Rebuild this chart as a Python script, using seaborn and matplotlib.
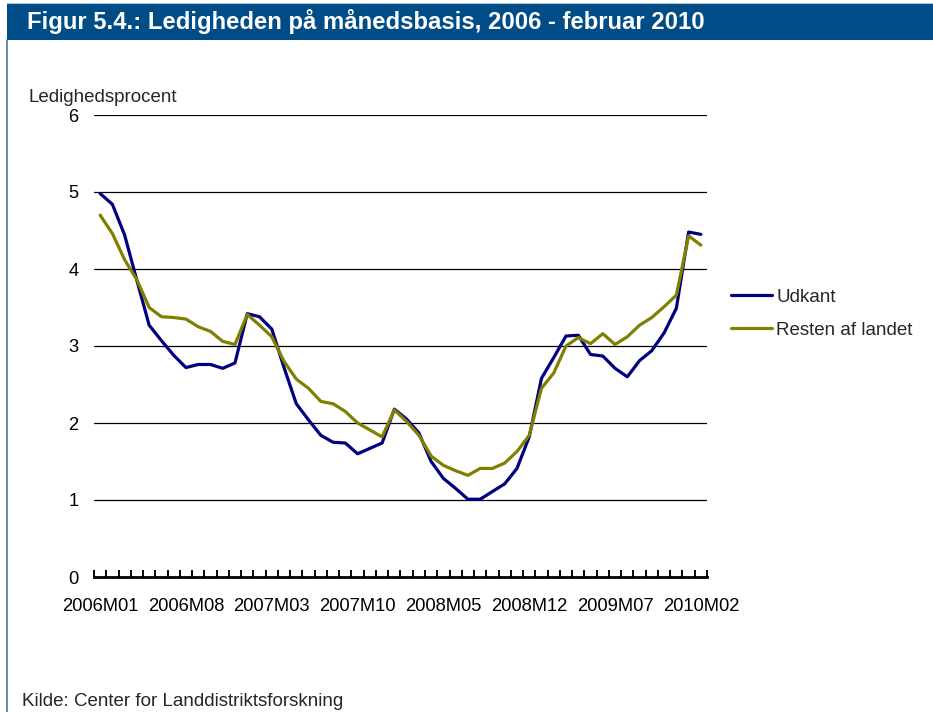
import matplotlib
matplotlib.use("Agg")
import matplotlib.pyplot as plt
from matplotlib.patches import Rectangle
from matplotlib.lines import Line2D
import numpy as np
import pandas as pd
import seaborn as sns

# Monthly unemployment rate, January 2006 - February 2010
months = [str(p).replace("-", "M") for p in pd.period_range("2006-01", "2010-02", freq="M")]

udkant = [4.98, 4.84, 4.44, 3.85, 3.27, 3.07, 2.88, 2.72, 2.76, 2.76,
          2.71, 2.78, 3.42, 3.38, 3.22, 2.72, 2.25, 2.04, 1.84, 1.75,
          1.74, 1.60, 1.67, 1.74, 2.18, 2.05, 1.87, 1.50, 1.28, 1.15,
          1.01, 1.01, 1.11, 1.21, 1.41, 1.82, 2.58, 2.85, 3.13, 3.14,
          2.89, 2.87, 2.71, 2.60, 2.81, 2.94, 3.17, 3.49, 4.48, 4.45]

resten = [4.70, 4.46, 4.12, 3.86, 3.50, 3.38, 3.37, 3.35, 3.25, 3.19,
          3.06, 3.02, 3.41, 3.27, 3.12, 2.80, 2.57, 2.45, 2.28, 2.25,
          2.15, 2.00, 1.91, 1.82, 2.17, 2.02, 1.84, 1.57, 1.45, 1.38,
          1.32, 1.41, 1.41, 1.48, 1.63, 1.84, 2.45, 2.65, 3.00, 3.11,
          3.03, 3.16, 3.02, 3.12, 3.27, 3.37, 3.51, 3.66, 4.43, 4.31]

series_names = ["Udkant", "Resten af landet"]
series_colors = ["#000080", "#808000"]
tick_labels = ["2006M01", "2006M08", "2007M03", "2007M10",
               "2008M05", "2008M12", "2009M07", "2010M02"]
y_ticks = [0, 1, 2, 3, 4, 5, 6]

df = pd.DataFrame({
    "idx": list(range(len(months))) * 2,
    "maaned": months * 2,
    "procent": udkant + resten,
    "serie": [series_names[0]] * len(months) + [series_names[1]] * len(months),
})

sns.set_theme(style="white")
plt.rcParams["font.family"] = ["Liberation Sans", "DejaVu Sans"]

W, H = 933, 712
fig = plt.figure(figsize=(W / 100, H / 100), dpi=100)
fig.patch.set_facecolor("white")

# Header bar and frame
fig.patches.append(Rectangle((7 / W, 1 - 40 / H), 1 - 7 / W, 36.5 / H,
                             transform=fig.transFigure, facecolor="#004C87",
                             edgecolor="none", zorder=0))
fig.patches.append(Rectangle((7 / W, 1 - 4 / H), 1 - 7 / W, 1.2 / H,
                             transform=fig.transFigure, facecolor="#A9C4DC",
                             edgecolor="none", zorder=0))
fig.lines.append(Line2D([7.5 / W, 7.5 / W], [0, 1 - 40 / H],
                        transform=fig.transFigure, color="#4A78A8", lw=1.2))
fig.text(27 / W, 1 - 21.5 / H, "Figur 5.4.: Ledigheden på månedsbasis, 2006 - februar 2010",
         color="white", fontsize=17.2, fontweight="bold", va="center", ha="left")

ax = fig.add_axes([94 / W, 1 - 577 / H, (707 - 94) / W, (577 - 115) / H])
sns.lineplot(data=df, x="idx", y="procent", hue="serie", palette=series_colors,
             hue_order=series_names, linewidth=2.3, ax=ax, legend=False)

ax.set_xlim(-0.5, len(months) - 0.5)
ax.set_ylim(0, 6)
ax.set_xlabel("")
ax.set_ylabel("")

for v in y_ticks[1:]:
    ax.axhline(v, color="black", lw=0.9, zorder=0)

for s in ["left", "right", "top"]:
    ax.spines[s].set_visible(False)
ax.spines["bottom"].set_color("black")
ax.spines["bottom"].set_linewidth(2)

ax.set_yticks(y_ticks)
ax.set_yticklabels([str(v) for v in y_ticks])
ax.tick_params(axis="y", length=0, pad=11, labelsize=13.2, labelcolor="black")

ax.set_xticks(np.arange(-0.5, len(months), 1.0))
ax.set_xticklabels([])
ax.tick_params(axis="x", which="major", direction="in", length=5, width=1.4,
               color="black", bottom=True)
label_pos = [months.index(t) for t in tick_labels]
ax.set_xticks(label_pos, minor=True)
ax.set_xticklabels(tick_labels, minor=True)
ax.tick_params(axis="x", which="minor", length=0, pad=15, labelsize=13.2,
               labelcolor="black")

fig.text(28 / W, 1 - 97 / H, "Ledighedsprocent", fontsize=13.5, va="center", ha="left")

handles = [Line2D([], [], color=c, lw=2.3) for c in series_colors]
fig.legend(handles, series_names, loc="center left",
           bbox_to_anchor=(731 / W, 1 - 313.5 / H), frameon=False, fontsize=13.5,
           handlelength=2.2, handletextpad=0.2, labelspacing=0.85, borderpad=0,
           borderaxespad=0)

fig.text(22 / W, 1 - 702 / H, "Kilde: Center for Landdistriktsforskning",
         fontsize=13.5, va="center", ha="left")

fig.savefig("out.png", dpi=100)
